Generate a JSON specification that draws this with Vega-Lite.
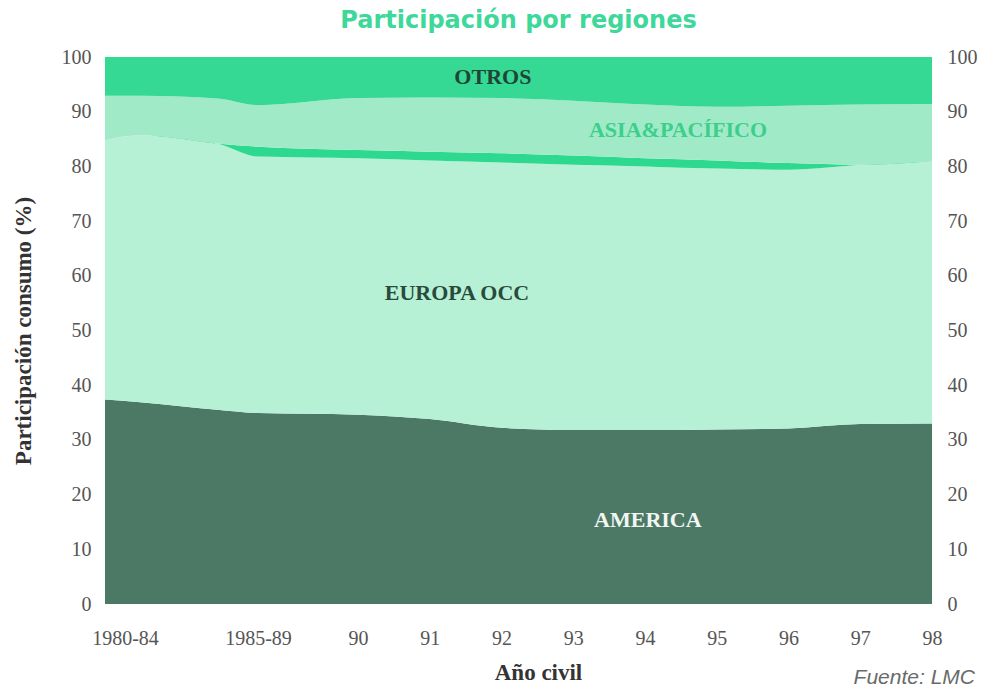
{
  "$schema": "https://vega.github.io/schema/vega-lite/v6.json",
  "autosize": "none",
  "width": 827,
  "height": 547,
  "padding": {"left": 105, "top": 57, "right": 64, "bottom": 88},
  "background": "white",
  "title": {
    "text": "Participación por regiones",
    "color": "#3ed89a",
    "font": "DejaVu Sans",
    "fontSize": 24,
    "fontWeight": "bold",
    "anchor": "middle",
    "offset": 14
  },
  "config": {"view": {"stroke": null}},
  "datasets": {
    "consumo": [
      {"t": 86.474, "region": "AMERICA", "orden": 1, "valor": 37.4},
      {"t": 86.474, "region": "EUROPA OCC", "orden": 2, "valor": 47.4},
      {"t": 86.474, "region": "EUROPA OR", "orden": 3, "valor": 0},
      {"t": 86.474, "region": "ASIA&PACÍFICO", "orden": 4, "valor": 8.1},
      {"t": 86.474, "region": "OTROS", "orden": 5, "valor": 7.1},
      {"t": 86.962, "region": "AMERICA", "orden": 1, "valor": 36.9},
      {"t": 86.962, "region": "EUROPA OCC", "orden": 2, "valor": 48.8},
      {"t": 86.962, "region": "EUROPA OR", "orden": 3, "valor": 0},
      {"t": 86.962, "region": "ASIA&PACÍFICO", "orden": 4, "valor": 7.2},
      {"t": 86.962, "region": "OTROS", "orden": 5, "valor": 7.1},
      {"t": 88.035, "region": "AMERICA", "orden": 1, "valor": 35.5},
      {"t": 88.035, "region": "EUROPA OCC", "orden": 2, "valor": 48.7},
      {"t": 88.035, "region": "EUROPA OR", "orden": 3, "valor": 0},
      {"t": 88.035, "region": "ASIA&PACÍFICO", "orden": 4, "valor": 8.2},
      {"t": 88.035, "region": "OTROS", "orden": 5, "valor": 7.6},
      {"t": 88.606, "region": "AMERICA", "orden": 1, "valor": 34.9},
      {"t": 88.606, "region": "EUROPA OCC", "orden": 2, "valor": 46.9},
      {"t": 88.606, "region": "EUROPA OR", "orden": 3, "valor": 1.8},
      {"t": 88.606, "region": "ASIA&PACÍFICO", "orden": 4, "valor": 7.6},
      {"t": 88.606, "region": "OTROS", "orden": 5, "valor": 8.8},
      {"t": 90, "region": "AMERICA", "orden": 1, "valor": 34.6},
      {"t": 90, "region": "EUROPA OCC", "orden": 2, "valor": 46.9},
      {"t": 90, "region": "EUROPA OR", "orden": 3, "valor": 1.5},
      {"t": 90, "region": "ASIA&PACÍFICO", "orden": 4, "valor": 9.5},
      {"t": 90, "region": "OTROS", "orden": 5, "valor": 7.5},
      {"t": 91, "region": "AMERICA", "orden": 1, "valor": 33.8},
      {"t": 91, "region": "EUROPA OCC", "orden": 2, "valor": 47.3},
      {"t": 91, "region": "EUROPA OR", "orden": 3, "valor": 1.6},
      {"t": 91, "region": "ASIA&PACÍFICO", "orden": 4, "valor": 9.9},
      {"t": 91, "region": "OTROS", "orden": 5, "valor": 7.4},
      {"t": 92, "region": "AMERICA", "orden": 1, "valor": 32.2},
      {"t": 92, "region": "EUROPA OCC", "orden": 2, "valor": 48.5},
      {"t": 92, "region": "EUROPA OR", "orden": 3, "valor": 1.7},
      {"t": 92, "region": "ASIA&PACÍFICO", "orden": 4, "valor": 10.1},
      {"t": 92, "region": "OTROS", "orden": 5, "valor": 7.5},
      {"t": 93, "region": "AMERICA", "orden": 1, "valor": 31.8},
      {"t": 93, "region": "EUROPA OCC", "orden": 2, "valor": 48.5},
      {"t": 93, "region": "EUROPA OR", "orden": 3, "valor": 1.7},
      {"t": 93, "region": "ASIA&PACÍFICO", "orden": 4, "valor": 10.0},
      {"t": 93, "region": "OTROS", "orden": 5, "valor": 8.0},
      {"t": 94, "region": "AMERICA", "orden": 1, "valor": 31.8},
      {"t": 94, "region": "EUROPA OCC", "orden": 2, "valor": 48.2},
      {"t": 94, "region": "EUROPA OR", "orden": 3, "valor": 1.5},
      {"t": 94, "region": "ASIA&PACÍFICO", "orden": 4, "valor": 9.8},
      {"t": 94, "region": "OTROS", "orden": 5, "valor": 8.7},
      {"t": 95, "region": "AMERICA", "orden": 1, "valor": 31.9},
      {"t": 95, "region": "EUROPA OCC", "orden": 2, "valor": 47.7},
      {"t": 95, "region": "EUROPA OR", "orden": 3, "valor": 1.5},
      {"t": 95, "region": "ASIA&PACÍFICO", "orden": 4, "valor": 9.8},
      {"t": 95, "region": "OTROS", "orden": 5, "valor": 9.1},
      {"t": 96, "region": "AMERICA", "orden": 1, "valor": 32.1},
      {"t": 96, "region": "EUROPA OCC", "orden": 2, "valor": 47.3},
      {"t": 96, "region": "EUROPA OR", "orden": 3, "valor": 1.2},
      {"t": 96, "region": "ASIA&PACÍFICO", "orden": 4, "valor": 10.5},
      {"t": 96, "region": "OTROS", "orden": 5, "valor": 8.9},
      {"t": 97, "region": "AMERICA", "orden": 1, "valor": 32.9},
      {"t": 97, "region": "EUROPA OCC", "orden": 2, "valor": 47.4},
      {"t": 97, "region": "EUROPA OR", "orden": 3, "valor": 0},
      {"t": 97, "region": "ASIA&PACÍFICO", "orden": 4, "valor": 11.0},
      {"t": 97, "region": "OTROS", "orden": 5, "valor": 8.7},
      {"t": 98, "region": "AMERICA", "orden": 1, "valor": 33.0},
      {"t": 98, "region": "EUROPA OCC", "orden": 2, "valor": 48.0},
      {"t": 98, "region": "EUROPA OR", "orden": 3, "valor": 0},
      {"t": 98, "region": "ASIA&PACÍFICO", "orden": 4, "valor": 10.4},
      {"t": 98, "region": "OTROS", "orden": 5, "valor": 8.6}
    ],
    "etiquetas": [
      {"t": 91.88, "v": 96.3, "texto": "OTROS", "color": "#1f4537"},
      {"t": 94.46, "v": 86.7, "texto": "ASIA&PACÍFICO", "color": "#3ccf8c"},
      {"t": 91.38, "v": 56.9, "texto": "EUROPA OCC", "color": "#2a4a3d"},
      {"t": 94.04, "v": 15.4, "texto": "AMERICA", "color": "#f2f5f2"}
    ]
  },
  "layer": [
    {
      "data": {"name": "consumo"},
      "mark": {"type": "area", "interpolate": "monotone"},
      "encoding": {
        "x": {
          "field": "t",
          "type": "quantitative",
          "scale": {"domain": [86.474, 98], "nice": false, "zero": false},
          "axis": {
            "title": "Año civil",
            "titleFont": "Liberation Serif",
            "titleFontSize": 23,
            "titleFontWeight": "bold",
            "titleColor": "#333333",
            "titlePadding": 13,
            "titleX": 433,
            "values": [86.474, 88.606, 90, 91, 92, 93, 94, 95, 96, 97, 98],
            "labelExpr": "datum.value < 87 ? '1980-84' : datum.value < 89 ? '1985-89' : format(datum.value, 'd')",
            "labelFont": "Liberation Serif",
            "labelFontSize": 20,
            "labelColor": "#555555",
            "labelPadding": 24,
            "labelOffset": {"condition": {"test": "datum.value < 87", "value": 20}, "value": 0},
            "labelOverlap": false,
            "labelBound": false,
            "labelFlush": false,
            "domain": false,
            "ticks": false,
            "grid": false
          }
        },
        "y": {
          "field": "valor",
          "type": "quantitative",
          "stack": "zero",
          "scale": {"domain": [0, 100], "nice": false},
          "axis": {
            "title": "Participación consumo (%)",
            "titleFont": "Liberation Serif",
            "titleFontSize": 23,
            "titleFontWeight": "bold",
            "titleColor": "#333333",
            "titlePadding": 26,
            "values": [0, 10, 20, 30, 40, 50, 60, 70, 80, 90, 100],
            "labelFont": "Liberation Serif",
            "labelFontSize": 20,
            "labelColor": "#555555",
            "labelPadding": 14,
            "domain": false,
            "ticks": false,
            "grid": false
          }
        },
        "color": {
          "field": "region",
          "type": "nominal",
          "scale": {
            "domain": ["AMERICA", "EUROPA OCC", "EUROPA OR", "ASIA&PACÍFICO", "OTROS"],
            "range": ["#4b7966", "#b6f1d6", "#2dd98e", "#a0eac7", "#36d993"]
          },
          "legend": null
        },
        "order": {"field": "orden", "type": "quantitative"}
      }
    },
    {
      "data": {"name": "etiquetas"},
      "mark": {"type": "text", "font": "Liberation Serif", "fontSize": 22, "fontWeight": "bold", "align": "center", "baseline": "middle"},
      "encoding": {
        "x": {"field": "t", "type": "quantitative"},
        "y": {
          "field": "v",
          "type": "quantitative",
          "axis": {
            "orient": "right",
            "title": null,
            "values": [0, 10, 20, 30, 40, 50, 60, 70, 80, 90, 100],
            "labelFont": "Liberation Serif",
            "labelFontSize": 20,
            "labelColor": "#555555",
            "labelPadding": 15,
            "domain": false,
            "ticks": false,
            "grid": false
          }
        },
        "text": {"field": "texto"},
        "color": {"field": "color", "type": "nominal", "scale": null}
      }
    },
    {
      "data": {"values": [{"t": 98, "v": 0, "texto": "Fuente: LMC"}]},
      "mark": {"type": "text", "font": "Liberation Sans", "fontSize": 21, "fontStyle": "italic", "color": "#6a6a6a", "align": "right", "baseline": "alphabetic", "dx": 43, "dy": 80},
      "encoding": {
        "x": {"field": "t", "type": "quantitative"},
        "y": {"field": "v", "type": "quantitative", "axis": null},
        "text": {"field": "texto"}
      }
    }
  ],
  "resolve": {"axis": {"y": "independent"}}
}
